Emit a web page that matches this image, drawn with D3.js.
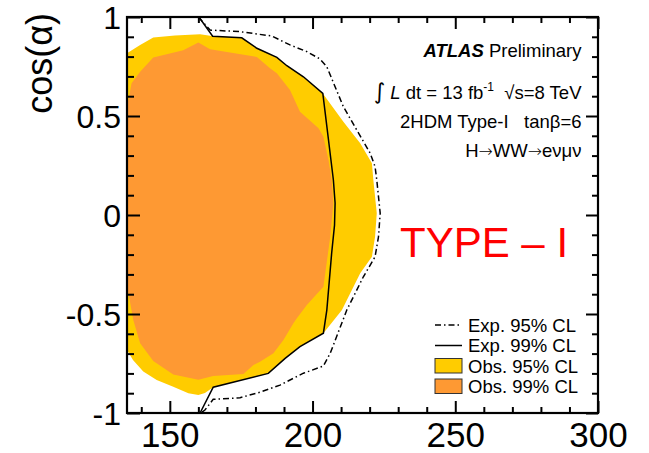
<!DOCTYPE html>
<html>
<head>
<meta charset="utf-8">
<script src="https://cdn.jsdelivr.net/npm/d3@7"></script>
<style>
  html, body { margin: 0; padding: 0; background: #fff; }
  svg { display: block; font-family: "Liberation Sans", Arial, Helvetica, sans-serif; }
</style>
</head>
<body>
<svg id="chart" width="649" height="453"></svg>
<script>
// Exclusion contours in the (m_H [GeV], cos(alpha)) plane
const obs95 = [
  [135, 0.817], [139.6, 0.859], [144.2, 0.896], [151.8, 0.907], [160.6, 0.913],
  [164.7, 0.904], [175.2, 0.895], [180.5, 0.842], [187.5, 0.796], [191.0, 0.754],
  [196.8, 0.698], [203.6, 0.614], [210.8, 0.471], [216.7, 0.362], [220.8, 0.261],
  [221.3, 0.177], [222.5, 0.009], [221.9, -0.110], [220.8, -0.211], [216.7, -0.294],
  [212.6, -0.413], [210.3, -0.480], [203.8, -0.597], [195.6, -0.665], [190.4, -0.724],
  [184.5, -0.800], [165.2, -0.870], [162.3, -0.899], [160.0, -0.909], [156.5, -0.900],
  [151.2, -0.867], [145.4, -0.833], [140.7, -0.791], [137.1, -0.732], [135, -0.682]
];
const obs99 = [
  [135, 0.556], [135.5, 0.581], [136.6, 0.665], [139.6, 0.724], [144.2, 0.796],
  [154.7, 0.832], [160.0, 0.871], [164.1, 0.837], [180.5, 0.798], [185.1, 0.741],
  [187.5, 0.716], [192.1, 0.631], [195.6, 0.522], [202.1, 0.438], [203.8, 0.395],
  [205.6, 0.278], [206.7, 0.177], [207.3, 0.059], [206.2, -0.110], [203.8, -0.362],
  [198.0, -0.455], [194.5, -0.522], [193.3, -0.547], [189.8, -0.631], [186.3, -0.698],
  [181.6, -0.741], [179.3, -0.758], [175.8, -0.803], [165.2, -0.813], [160.0, -0.832],
  [151.2, -0.806], [144.2, -0.737], [139.6, -0.648], [137.2, -0.530], [135.5, -0.395],
  [135, -0.379]
];
const exp95 = [
  [160.0, 1.0], [164.1, 0.934], [174.6, 0.926], [185.7, 0.904], [192.1, 0.859],
  [198.0, 0.825], [202.6, 0.788], [205.0, 0.749], [210.8, 0.547], [215.5, 0.429],
  [220.2, 0.312], [221.9, 0.244], [222.5, 0.177], [223.7, 0.009], [223.1, -0.110],
  [221.9, -0.211], [217.8, -0.312], [212.0, -0.480], [206.2, -0.698], [203.8, -0.763],
  [196.8, -0.799], [188.6, -0.859], [181.6, -0.895], [174.6, -0.923], [165.2, -0.931],
  [162.3, -0.985], [160.9, -1.0]
];
const exp99 = [
  [160.2, 1.0], [165.0, 0.903], [175.2, 0.895], [180.5, 0.842], [187.5, 0.796],
  [191.0, 0.754], [196.8, 0.698], [203.6, 0.614], [207.3, 0.177], [207.9, 0.061],
  [207.7, -0.051], [206.7, -0.192], [205.0, -0.480], [203.8, -0.597], [195.6, -0.665],
  [190.4, -0.724], [184.5, -0.800], [165.2, -0.870], [160.6, -1.0]
];

const xMajorTicks = [150, 200, 250, 300];
const xMinorTicks = [140, 160, 170, 180, 190, 210, 220, 230, 240, 260, 270, 280, 290];
const yMajorTicks = [-1, -0.5, 0, 0.5, 1];
const yMinorTicks = [-0.9, -0.8, -0.7, -0.6, -0.4, -0.3, -0.2, -0.1, 0.1, 0.2, 0.3, 0.4, 0.6, 0.7, 0.8, 0.9];
const xTickLabels = ["150", "200", "250", "300"];
const yTickLabels = ["-1", "-0.5", "0", "0.5", "1"];

const legendLabels = ["Exp. 95% CL", "Exp. 99% CL", "Obs. 95% CL", "Obs. 99% CL"];

const colors = { obs95: "#ffcc00", obs99: "#fe9933" };
const dashDot = "6,3,1.5,3";

const svg = d3.select("#chart");
const L = 127, R = 598, T = 17, B = 413;
const x = d3.scaleLinear().domain([135, 300]).range([L, R]);
const y = d3.scaleLinear().domain([-1, 1]).range([B, T]);

svg.append("defs").append("clipPath").attr("id", "plotArea")
  .append("rect").attr("x", L).attr("y", T).attr("width", R - L).attr("height", B - T);

const line = d3.line().x(d => x(d[0])).y(d => y(d[1]));
const plot = svg.append("g").attr("clip-path", "url(#plotArea)");

plot.append("path").attr("d", line(obs95) + "Z").attr("fill", colors.obs95);
plot.append("path").attr("d", line(obs99) + "Z").attr("fill", colors.obs99);
plot.append("path").attr("d", line(exp99)).attr("fill", "none")
  .attr("stroke", "#000").attr("stroke-width", 1.5);
plot.append("path").attr("d", line(exp95)).attr("fill", "none")
  .attr("stroke", "#000").attr("stroke-width", 1.5).attr("stroke-dasharray", dashDot);

// Axes: ticks point inward on all four sides
function styleAxis(g) {
  g.select(".domain").remove();
  g.selectAll("line").attr("stroke", "#000").attr("stroke-width", 2);
}
const fmtX = (d) => xTickLabels[xMajorTicks.indexOf(d)];
const fmtY = (d) => yTickLabels[yMajorTicks.indexOf(d)];

svg.append("g").attr("transform", `translate(0,${B})`)
  .call(d3.axisBottom(x).tickValues(xMajorTicks).tickSizeInner(-12).tickSizeOuter(0).tickPadding(9).tickFormat(fmtX))
  .call(styleAxis)
  .call(g => g.selectAll("text").attr("font-size", 35).attr("font-family", "Liberation Sans, Arial, sans-serif").attr("fill", "#000"));
svg.append("g").attr("transform", `translate(0,${B})`)
  .call(d3.axisBottom(x).tickValues(xMinorTicks).tickSizeInner(-6).tickSizeOuter(0).tickFormat(""))
  .call(styleAxis);
svg.append("g").attr("transform", `translate(0,${T})`)
  .call(d3.axisTop(x).tickValues(xMajorTicks).tickSizeInner(-12).tickSizeOuter(0).tickFormat(""))
  .call(styleAxis);
svg.append("g").attr("transform", `translate(0,${T})`)
  .call(d3.axisTop(x).tickValues(xMinorTicks).tickSizeInner(-6).tickSizeOuter(0).tickFormat(""))
  .call(styleAxis);

svg.append("g").attr("transform", `translate(${L},0)`)
  .call(d3.axisLeft(y).tickValues(yMajorTicks).tickSizeInner(-13).tickSizeOuter(0).tickPadding(6).tickFormat(fmtY))
  .call(styleAxis)
  .call(g => g.selectAll("text").attr("font-size", 32).attr("font-family", "Liberation Sans, Arial, sans-serif").attr("fill", "#000").attr("dy", "0.36em"));
svg.append("g").attr("transform", `translate(${L},0)`)
  .call(d3.axisLeft(y).tickValues(yMinorTicks).tickSizeInner(-7).tickSizeOuter(0).tickFormat(""))
  .call(styleAxis);
svg.append("g").attr("transform", `translate(${R},0)`)
  .call(d3.axisRight(y).tickValues(yMajorTicks).tickSizeInner(-12).tickSizeOuter(0).tickFormat(""))
  .call(styleAxis);
svg.append("g").attr("transform", `translate(${R},0)`)
  .call(d3.axisRight(y).tickValues(yMinorTicks).tickSizeInner(-6).tickSizeOuter(0).tickFormat(""))
  .call(styleAxis);

// Frame
svg.append("rect").attr("x", L).attr("y", T).attr("width", R - L).attr("height", B - T)
  .attr("fill", "none").attr("stroke", "#000").attr("stroke-width", 2.2);

// Y-axis title
svg.append("text")
  .attr("transform", `translate(52,13) rotate(-90)`)
  .attr("text-anchor", "end")
  .attr("font-size", 36)
  .text("cos(α)");

// Annotations
const tx = 581.5;
const fs = 18.5;
const a1 = svg.append("text").attr("x", tx).attr("y", 57).attr("text-anchor", "end").attr("font-size", fs);
a1.append("tspan").attr("font-weight", "bold").attr("font-style", "italic").text("ATLAS");
a1.append("tspan").text(" Preliminary");

const a2 = svg.append("text").attr("x", tx).attr("y", 99).attr("text-anchor", "end")
  .attr("font-size", fs).style("white-space", "pre");
a2.append("tspan").attr("font-family", "DejaVu Sans").attr("font-size", 22).text("∫");
a2.append("tspan").text(" ");
a2.append("tspan").attr("font-style", "italic").text("L");
a2.append("tspan").text(" dt = 13 fb");
a2.append("tspan").attr("font-size", 12).attr("dy", -8).text("-1");
a2.append("tspan").attr("dy", 8).text("  √s=8 TeV");

svg.append("text").attr("x", tx).attr("y", 128).attr("text-anchor", "end")
  .attr("font-size", fs).style("white-space", "pre").text("2HDM Type-I   tanβ=6");

const a4 = svg.append("text").attr("x", tx).attr("y", 157).attr("text-anchor", "end").attr("font-size", fs);
["H", "→", "WW", "→", "eνμν"].forEach(s => {
  const t = a4.append("tspan").text(s);
  if (s === "→") t.attr("font-family", "DejaVu Sans").attr("font-size", 17).attr("font-weight", 200);
});

svg.append("text").attr("x", 400).attr("y", 257).attr("font-size", 42)
  .attr("fill", "#ff0000").style("white-space", "pre").text("TYPE – I");

// Legend
const lg = svg.append("g");
const rowY = [325, 345.5, 366, 386.5];
const lx0 = 435, lx1 = 462, textX = 468;
legendLabels.forEach((lab, i) => {
  const cy = rowY[i];
  if (i < 2) {
    lg.append("line").attr("x1", lx0).attr("x2", lx1).attr("y1", cy).attr("y2", cy)
      .attr("stroke", "#000").attr("stroke-width", 1.5)
      .attr("stroke-dasharray", i === 0 ? dashDot : null);
  } else {
    lg.append("rect").attr("x", lx0).attr("y", cy - 7.5).attr("width", lx1 - lx0).attr("height", 14.5)
      .attr("fill", i === 2 ? colors.obs95 : colors.obs99).attr("stroke", "#333").attr("stroke-width", 1);
  }
  lg.append("text").attr("x", textX).attr("y", cy + 6.5).attr("font-size", fs).text(lab);
});
</script>
</body>
</html>
